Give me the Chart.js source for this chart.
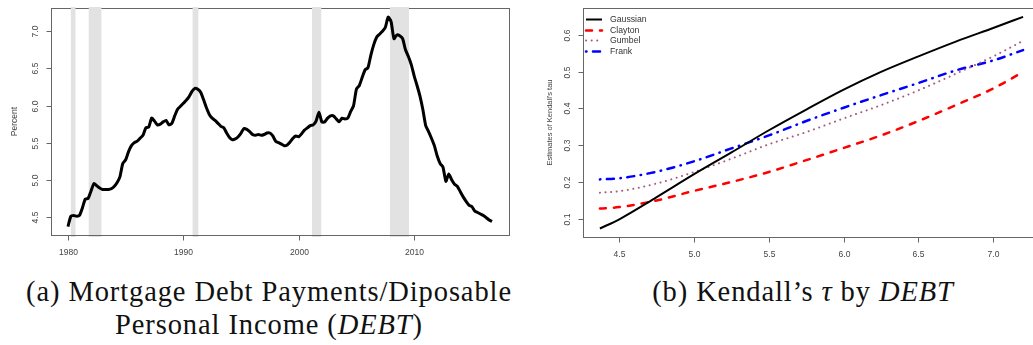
<!DOCTYPE html>
<html>
<head>
<meta charset="utf-8">
<script src="https://cdn.jsdelivr.net/npm/chart.js@4.4.1/dist/chart.umd.min.js"></script>
<style>
html, body { margin: 0; padding: 0; background: #fff; overflow: hidden; width: 1033px; height: 345px; }
canvas { position: absolute; top: 0; }
.cap { position: absolute; font-family: "Liberation Serif", serif; font-size: 28.5px; line-height: 28px; color: #111;
       white-space: nowrap; letter-spacing: 0.9px; text-align: center; }
</style>
</head>
<body>
<canvas id="chartA" width="520" height="262" style="left:0"></canvas>
<canvas id="chartB" width="540" height="262" style="left:520px"></canvas>
<div class="cap" style="left:0;width:538px;top:278px">(a) Mortgage Debt Payments/Diposable</div>
<div class="cap" style="left:0;width:538px;top:311px">Personal Income (<i>DEBT</i>)</div>
<div class="cap" style="left:603px;width:400px;top:278px">(b) Kendall’s <i>τ</i> by <i>DEBT</i></div>
<script>
// panel (a): quarterly DEBT series, 1980Q1 .. 2016Q4
var debtStart = 1980;
var debtValues = [
  4.37, 4.51, 4.52, 4.51, 4.52, 4.62, 4.74, 4.75, 4.85, 4.95, 4.92, 4.89,
  4.87, 4.87, 4.87, 4.88, 4.91, 4.96, 5.04, 5.22, 5.27, 5.38, 5.46, 5.50,
  5.52, 5.56, 5.60, 5.70, 5.71, 5.83, 5.79, 5.74, 5.75, 5.78, 5.80, 5.74,
  5.76, 5.86, 5.95, 5.99, 6.03, 6.07, 6.12, 6.19, 6.23, 6.22, 6.18, 6.08,
  5.97, 5.88, 5.83, 5.80, 5.76, 5.72, 5.70, 5.63, 5.57, 5.54, 5.55, 5.58,
  5.63, 5.69, 5.68, 5.65, 5.61, 5.60, 5.61, 5.60, 5.61, 5.63, 5.63, 5.59,
  5.52, 5.50, 5.48, 5.46, 5.47, 5.51, 5.56, 5.59, 5.58, 5.62, 5.67, 5.70,
  5.73, 5.74, 5.79, 5.91, 5.78, 5.78, 5.83, 5.86, 5.86, 5.82, 5.78, 5.83,
  5.82, 5.83, 5.92, 6.00, 6.22, 6.27, 6.38, 6.48, 6.51, 6.68, 6.82, 6.92,
  6.96, 7.00, 7.05, 7.19, 7.13, 6.90, 6.95, 6.94, 6.90, 6.75, 6.66, 6.55,
  6.40, 6.27, 6.13, 5.95, 5.73, 5.65, 5.56, 5.46, 5.32, 5.22, 5.17, 4.98,
  5.08, 5.00, 4.94, 4.91, 4.84, 4.77, 4.71, 4.66, 4.64, 4.58, 4.56, 4.54,
  4.52, 4.49, 4.46, 4.44
];
var recessions = [[1980.25, 1980.65], [1981.8, 1982.9], [1990.8, 1991.3], [2001.15, 2001.95], [2007.9, 2009.55]];
var yearTicks = [1980, 1990, 2000, 2010];
var percentTicks = [4.5, 5.0, 5.5, 6.0, 6.5, 7.0];

// panel (b): Kendall's tau estimates by DEBT
var debtGrid = [4.37, 4.5, 4.75, 5.0, 5.25, 5.5, 5.75, 6.0, 6.25, 6.5, 6.75, 7.0, 7.2];
var gaussian = [0.075, 0.100, 0.160, 0.222, 0.281, 0.341, 0.397, 0.451, 0.499, 0.541, 0.581, 0.618, 0.648];
var clayton  = [0.129, 0.133, 0.151, 0.177, 0.201, 0.228, 0.260, 0.293, 0.327, 0.366, 0.409, 0.454, 0.499];
var gumbel   = [0.172, 0.176, 0.197, 0.228, 0.264, 0.303, 0.336, 0.373, 0.409, 0.449, 0.494, 0.541, 0.583];
var frank    = [0.208, 0.211, 0.229, 0.257, 0.292, 0.327, 0.366, 0.402, 0.436, 0.469, 0.503, 0.530, 0.558];
var debtTicks = [4.5, 5.0, 5.5, 6.0, 6.5, 7.0];
var tauTicks = [0.1, 0.2, 0.3, 0.4, 0.5, 0.6];

var tickFont = '8.5px "Liberation Sans", Arial, sans-serif';

// R-style box, axes and shaded bands
var rFrame = {
    id: 'rFrame',
    beforeDatasetsDraw: function(chart, args, opts) {
        var ctx = chart.ctx, a = chart.chartArea;
        var xs = chart.scales.x, ys = chart.scales.y;
        ctx.save();
        ctx.strokeStyle = '#666';
        ctx.lineWidth = 1;
        ctx.strokeRect(Math.round(a.left) + 0.5, Math.round(a.top) + 0.5,
                       Math.round(a.right - a.left), Math.round(a.bottom - a.top));

        ctx.fillStyle = '#e2e2e2';
        (opts.bands || []).forEach(function(b) {
            var x0 = xs.getPixelForValue(b[0]), x1 = xs.getPixelForValue(b[1]);
            ctx.fillRect(x0, a.top - 1, x1 - x0, a.bottom - a.top + 3);
        });

        var bottom = Math.round(a.bottom) + 0.5, left = Math.round(a.left) + 0.5;
        ctx.fillStyle = '#444';
        ctx.font = tickFont;
        ctx.textAlign = 'center';
        ctx.textBaseline = 'middle';

        // x axis
        var xt = opts.xTicks;
        ctx.beginPath();
        ctx.moveTo(Math.round(xs.getPixelForValue(xt[0])) + 0.5, bottom);
        ctx.lineTo(Math.round(xs.getPixelForValue(xt[xt.length - 1])) + 0.5, bottom);
        xt.forEach(function(v) {
            var px = Math.round(xs.getPixelForValue(v)) + 0.5;
            ctx.moveTo(px, bottom);
            ctx.lineTo(px, bottom + 5);
            ctx.fillText(v.toFixed(opts.xDigits), px, bottom + 17);
        });
        ctx.stroke();

        // y axis
        var yt = opts.yTicks;
        ctx.beginPath();
        ctx.moveTo(left, Math.round(ys.getPixelForValue(yt[0])) + 0.5);
        ctx.lineTo(left, Math.round(ys.getPixelForValue(yt[yt.length - 1])) + 0.5);
        yt.forEach(function(v) {
            var py = Math.round(ys.getPixelForValue(v)) + 0.5;
            ctx.moveTo(left, py);
            ctx.lineTo(left - 5, py);
            ctx.save();
            ctx.translate(left - 16, py);
            ctx.rotate(-Math.PI / 2);
            ctx.fillText(v.toFixed(opts.yDigits), 0, 0);
            ctx.restore();
        });
        ctx.stroke();

        // y title
        ctx.save();
        ctx.font = opts.titleFont;
        ctx.translate(left - opts.titleGap, (a.top + a.bottom) / 2);
        ctx.rotate(-Math.PI / 2);
        ctx.fillText(opts.yTitle, 0, 0);
        ctx.restore();
        ctx.restore();
    }
};

// legend without box, top left inside the plot
var rLegend = {
    id: 'rLegend',
    afterDatasetsDraw: function(chart, args, opts) {
        if (!opts.show) return;
        var ctx = chart.ctx, a = chart.chartArea;
        ctx.save();
        ctx.font = '8.7px "Liberation Sans", Arial, sans-serif';
        ctx.textBaseline = 'middle';
        ctx.textAlign = 'left';
        chart.data.datasets.forEach(function(ds, i) {
            var y = Math.round(a.top + 11 + i * 10.5) + 0.5;
            ctx.strokeStyle = ds.borderColor;
            ctx.lineWidth = ds.borderWidth;
            ctx.lineCap = ds.borderCapStyle || 'butt';
            ctx.setLineDash(ds.borderDash || []);
            ctx.beginPath();
            ctx.moveTo(a.left + 3, y);
            ctx.lineTo(a.left + 19, y);
            ctx.stroke();
            ctx.fillStyle = '#333';
            ctx.fillText(ds.label, a.left + 27, y);
        });
        ctx.restore();
    }
};

function baseOptions(xMin, xMax, yMin, yMax, pad) {
    return {
        responsive: false,
        animation: false,
        events: [],
        layout: { padding: pad },
        scales: {
            x: { type: 'linear', display: false, min: xMin, max: xMax },
            y: { type: 'linear', display: false, min: yMin, max: yMax }
        },
        elements: { point: { radius: 0 } },
        plugins: { legend: { display: false }, tooltip: { enabled: false } }
    };
}

var optsA = baseOptions(1978.53, 2018.22, 4.257, 7.313, { left: 51, right: 11, top: 8, bottom: 27 });
optsA.plugins.rFrame = {
    bands: recessions, xTicks: yearTicks, xDigits: 0, yTicks: percentTicks, yDigits: 1,
    yTitle: 'Percent', titleFont: '8.5px "Liberation Sans", Arial, sans-serif', titleGap: 37
};
optsA.plugins.rLegend = { show: false };

new Chart(document.getElementById('chartA').getContext('2d'), {
    type: 'line',
    data: {
        datasets: [{
            label: 'DEBT',
            data: debtValues.map(function(v, i) { return { x: debtStart + i / 4, y: v }; }),
            borderColor: '#000',
            borderWidth: 3,
            borderJoinStyle: 'round',
            tension: 0.2
        }]
    },
    options: optsA,
    plugins: [rFrame, rLegend]
});

function pairs(ys) {
    return debtGrid.map(function(x, i) { return { x: x, y: ys[i] }; });
}

var optsB = baseOptions(4.257, 7.313, 0.052, 0.672, { left: 63, right: 20, top: 8, bottom: 25 });
optsB.plugins.rFrame = {
    xTicks: debtTicks, xDigits: 1, yTicks: tauTicks, yDigits: 1,
    yTitle: 'Estimates of Kendall\'s tau', titleFont: '7.5px "Liberation Sans", Arial, sans-serif', titleGap: 34
};
optsB.plugins.rLegend = { show: true };
optsB.datasets = { line: { cubicInterpolationMode: 'monotone' } };

new Chart(document.getElementById('chartB').getContext('2d'), {
    type: 'line',
    data: {
        datasets: [
            { label: 'Gaussian', data: pairs(gaussian), borderColor: '#000', borderWidth: 2 },
            { label: 'Clayton', data: pairs(clayton), borderColor: '#ff0000', borderWidth: 2.5,
              borderDash: [6, 8], borderCapStyle: 'round' },
            { label: 'Gumbel', data: pairs(gumbel), borderColor: '#a55a80', borderWidth: 2,
              borderDash: [0.1, 5.5], borderCapStyle: 'round' },
            { label: 'Frank', data: pairs(frank), borderColor: '#0000ff', borderWidth: 2.5,
              borderDash: [0.5, 6.5, 7, 6.5], borderCapStyle: 'round' }
        ]
    },
    options: optsB,
    plugins: [rFrame, rLegend]
});
</script>
</body>
</html>
